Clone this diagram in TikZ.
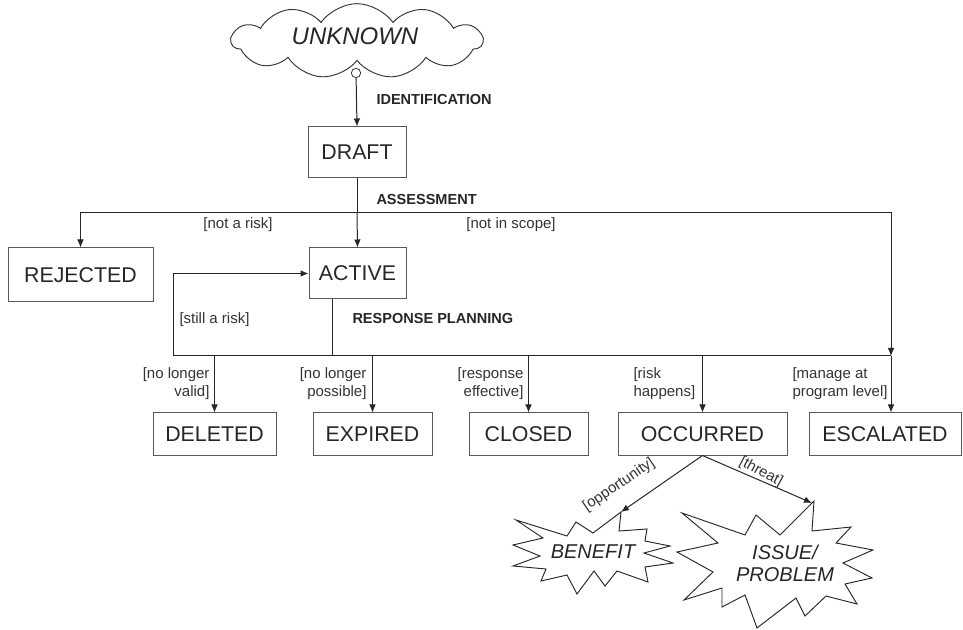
\documentclass[tikz,border=0pt]{standalone}
\usepackage{fontspec}
\setmainfont{Liberation Sans}
\usetikzlibrary{shapes.symbols,arrows.meta}
\begin{document}
\begin{tikzpicture}[x=0.75pt,y=-0.75pt,
  line width=0.75pt,
  conn/.style={draw=black!85},
  arr/.style={conn,-{Latex[length=6pt,width=5pt]}},
  state/.style={draw=black!65,line width=0.75pt,inner sep=0pt,
    font=\fontsize{16}{18}\selectfont,text=black!85},
  phase/.style={font=\bfseries\fontsize{10.9}{13}\selectfont,text=black!85,inner sep=0pt},
  guard/.style={font=\fontsize{11.25}{13.5}\selectfont,text=black!80,inner sep=0pt},
  burst/.style={draw=black!85,line width=0.7pt,line join=miter},
  bursttext/.style={font=\itshape\fontsize{15}{16.5}\selectfont,text=black!85,align=center,inner sep=0pt},
  ]
\useasboundingbox (0,0) rectangle (963,630);

% origin of every risk
\node[cloud, cloud puffs=11, cloud puff arc=110, cloud ignores aspect, draw=black!80,
  line width=0.7pt, minimum width=188pt, minimum height=56pt, inner sep=0pt,
  font=\itshape\fontsize{18}{20}\selectfont, text=black!85] (unknown) at (357,41) {};
\node[font=\itshape\fontsize{18}{20}\selectfont, text=black!85, inner sep=0pt] (unknowntext) at (355,36) {UNKNOWN};
\node[draw=black!80, circle, minimum size=7pt, inner sep=0pt, line width=0.6pt] (src) at (356,73) {};

% states
\node[state, minimum width=73.5pt, minimum height=38.25pt] (draft) at (357,152.5) {DRAFT};
\node[state, minimum width=72.75pt, minimum height=38.25pt] (active) at (357.5,273.5) {ACTIVE};
\node[state, minimum width=108.75pt, minimum height=40.5pt] (rejected) at (80.5,275) {REJECTED};
\node[state, minimum width=92.25pt, minimum height=31.5pt] (deleted) at (214.5,434) {DELETED};
\node[state, minimum width=89.25pt, minimum height=31.5pt] (expired) at (372.5,434) {EXPIRED};
\node[state, minimum width=89.25pt, minimum height=31.5pt] (closed) at (528.5,434) {CLOSED};
\node[state, minimum width=126.75pt, minimum height=31.5pt] (occurred) at (702.5,434) {OCCURRED};
\node[state, minimum width=114pt, minimum height=31.5pt] (escalated) at (885,434) {ESCALATED};

% outcomes of an occurred risk: hand-drawn starbursts
\draw[burst] (621,512) -- (619,531) -- (647,529) -- (645,541) -- (670,546) -- (644,553)
  -- (673,563) -- (645,567) -- (648,582) -- (617,571) -- (605,586) -- (594,571)
  -- (577,594) -- (567,575) -- (541,581) -- (546,569) -- (513,566) -- (540,556)
  -- (513,545) -- (543,538) -- (516,520) -- (567,536) -- (576,522) -- (593,533) -- cycle;
\node[bursttext] (benefit) at (593,552) {BENEFIT};
\coordinate (benin) at (621,512);

\draw[burst] (814,501) -- (812,531) -- (851,527) -- (836,543) -- (873,550) -- (843,563)
  -- (872,578) -- (845,584) -- (857,604) -- (826,596) -- (805,616) -- (796,598)
  -- (757,628) -- (745,595) -- (722,607) -- (722,588) -- (684,600) -- (713,572)
  -- (677,552) -- (718,543) -- (682,513) -- (745,535) -- (756,515) -- (780,535) -- cycle;
\node[bursttext] (issue) at (785,563) {ISSUE/\\PROBLEM};
\coordinate (issin) at (812,503);

% junctions
\coordinate (asm) at (357,213);
\coordinate (asmR) at (891,213);
\coordinate (actout) at (332,299);
\coordinate (busL) at (173,356);
\coordinate (busR) at (891,356);

% identification
\draw[arr] (src) -- (draft.north);
\node[phase, anchor=west] (lident) at (376,100) {IDENTIFICATION};

% assessment
\draw[conn] (draft.south) -- (asm);
\draw[arr] (asm) -- (active.north);
\draw[arr] (asm) -| (rejected.north);
\draw[arr] (asm) -- (asmR) -- (busR);
\node[phase, anchor=west] (lassess) at (376,200) {ASSESSMENT};
\node[guard] (lnotrisk) at (238,225) {[not a risk]};
\node[guard] (lscope) at (511,225) {[not in scope]};

% response planning
\draw[conn] (actout) -- (actout |- busL);
\draw[conn] (busL) -- (busR);
\draw[arr] (busL) |- (active.west);
\node[phase, anchor=west] (lresp) at (352,318) {RESPONSE PLANNING};
\node[guard, anchor=west] (lstill) at (179,320) {[still a risk]};

\draw[arr] (busL -| deleted.north) -- (deleted.north);
\draw[arr] (busL -| expired.north) -- (expired.north);
\draw[arr] (busL -| closed.north) -- (closed.north);
\draw[arr] (busL -| occurred.north) -- (occurred.north);
\draw[arr] (busR) -- (busR |- escalated.north);

\node[guard, anchor=east, align=right] (lvalid) at (210,384) {[no longer\\valid]};
\node[guard, anchor=east, align=right] (lposs) at (367,384) {[no longer\\possible]};
\node[guard, anchor=east, align=right] (leff) at (524,384) {[response\\effective]};
\node[guard, anchor=west, align=left] (lhap) at (633,384) {[risk\\happens]};
\node[guard, anchor=west, align=left] (lprog) at (792,384) {[manage at\\program level]};

% occurred branches
\draw[arr] (occurred.south) -- (benin);
\draw[arr] (occurred.south) -- (issin);
\node[guard, rotate=34] (lopp) at (619,485) {[opportunity]};
\node[guard, rotate=-28] (lthreat) at (761,472) {[threat]};
\end{tikzpicture}
\end{document}
